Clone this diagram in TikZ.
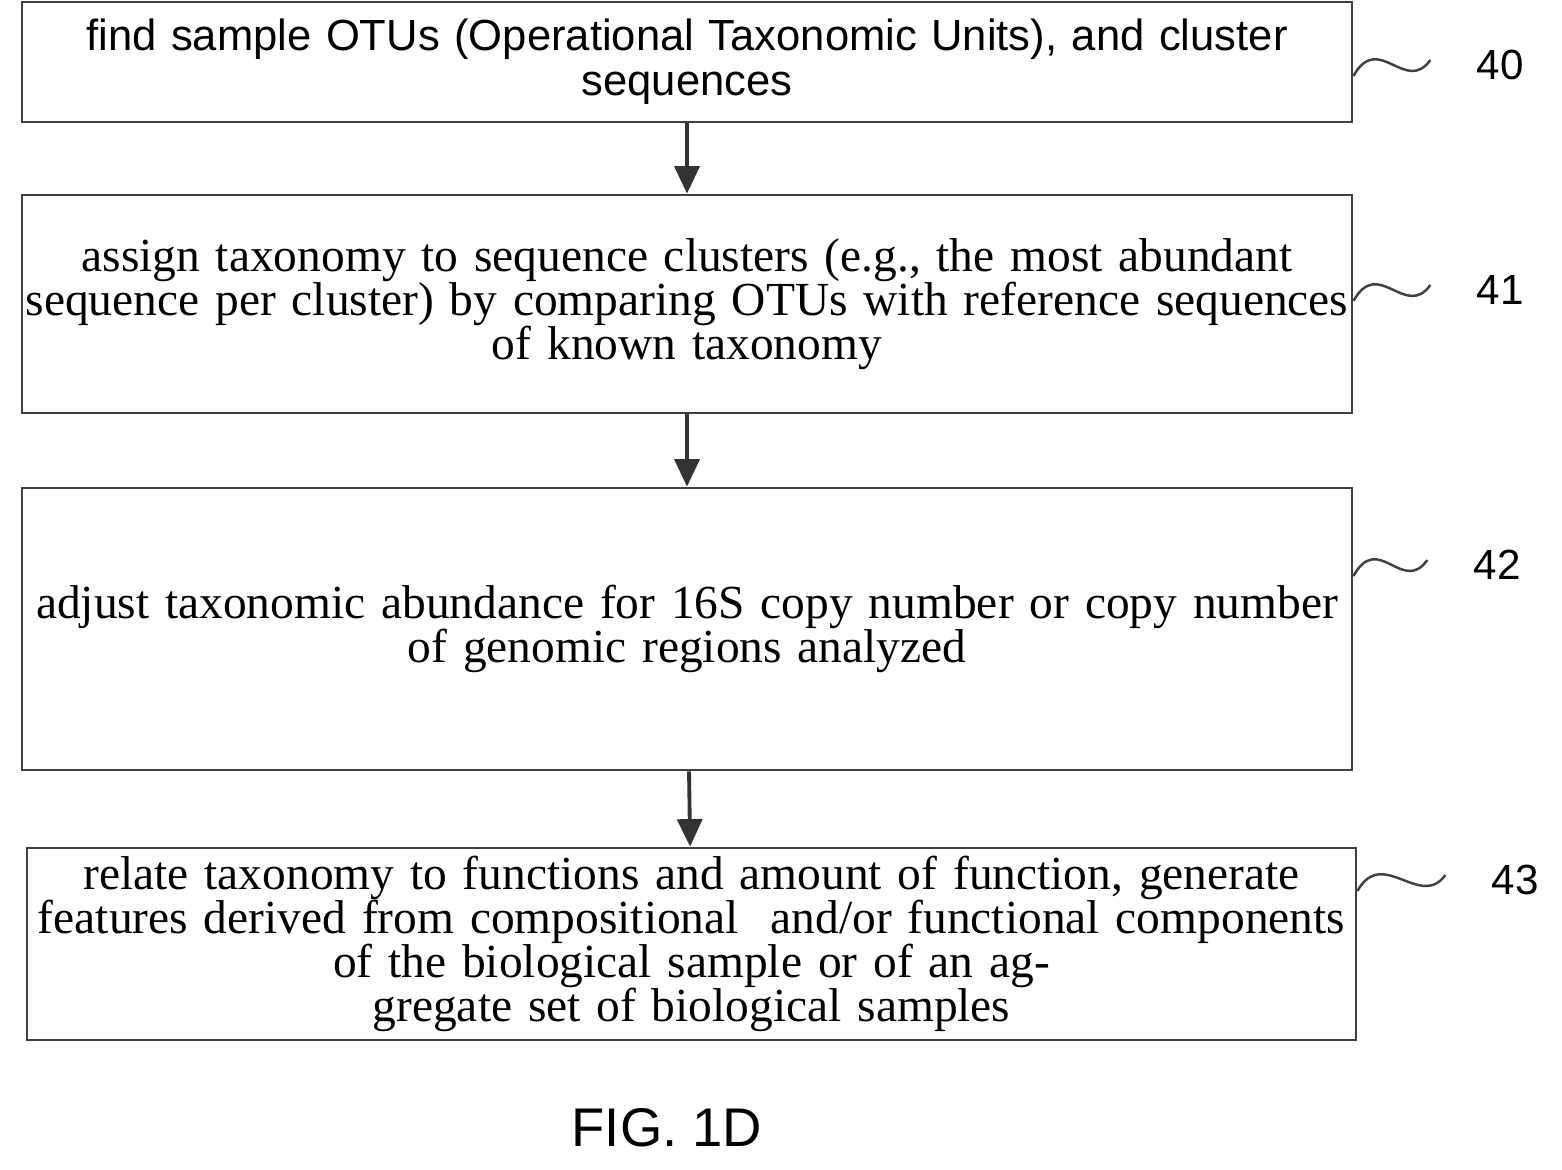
\documentclass[tikz,border=0pt]{standalone}
\usepackage{fontspec}
\setmainfont{Liberation Serif}
\setsansfont{Liberation Sans}
\usetikzlibrary{arrows.meta,calc}

\tikzset{
  procbox/.style={draw=black!75, line width=1.6pt, inner sep=0pt, align=center},
  flow/.style={draw=black!80, line width=2.2pt, -{Triangle[length=0.55cm,width=0.5cm]}},
  squig/.style={draw=black!75, line width=1.4pt},
  refnum/.style={font=\sffamily\fontsize{24}{26}\selectfont}
}

\begin{document}
\begin{tikzpicture}
  \useasboundingbox (0,0) rectangle (31.24,-23.38);

  % process steps
  \node[procbox, minimum width=26.6cm, minimum height=2.4cm, text width=26.4cm,
        font=\sffamily\fontsize{24.8}{25.5}\selectfont] (b40) at (13.74,-1.24)
    {find sample OTUs (Operational Taxonomic Units), and cluster\\sequences};
  \node[procbox, minimum width=26.6cm, minimum height=4.36cm, text width=26.6cm,
        font=\fontsize{27}{25}\selectfont] (b41) at (13.74,-6.08)
    {assign taxonomy to sequence clusters (e.g., the most abundant\\sequence per cluster) by comparing OTUs with reference sequences\\of known taxonomy};
  \node[procbox, minimum width=26.6cm, minimum height=5.64cm, text width=26.6cm,
        font=\fontsize{27}{25}\selectfont] (b42) at (13.74,-12.58)
    {adjust taxonomic abundance for 16S copy number or copy number\\of genomic regions analyzed};
  \node[procbox, minimum width=26.58cm, minimum height=3.84cm, text width=26.58cm,
        font=\fontsize{27}{25}\selectfont] (b43) at (13.83,-18.88)
    {relate taxonomy to functions and amount of function, generate\\features derived from compositional\ \ and/or functional components\\of the biological sample or of an aggregate set of biological samples};

  % the connection
  \draw[flow] (b40) -- (b41);
  \draw[flow] (b41) -- (b42);
  \draw[flow] (b42) -- (b43);

  % reference numerals
  \node[refnum] (lab40) at (30.0,-1.3)  {40};
  \node[refnum] (lab41) at (30.0,-5.8)  {41};
  \node[refnum] (lab42) at (29.94,-11.3) {42};
  \node[refnum] (lab43) at (30.3,-17.6) {43};
  \foreach \n in {40,41,42,43}
    \draw[squig] ([yshift=-0.22cm]b\n.east |- lab\n.west)
      .. controls +(0.5,0.9) and +(-0.5,-0.7) .. ([xshift=-0.8cm,yshift=0.1cm]lab\n.west);

  \node[font=\sffamily\fontsize{31}{33}\selectfont] (fig) at (13.34,-22.56) {FIG. 1D};
\end{tikzpicture}
\end{document}
